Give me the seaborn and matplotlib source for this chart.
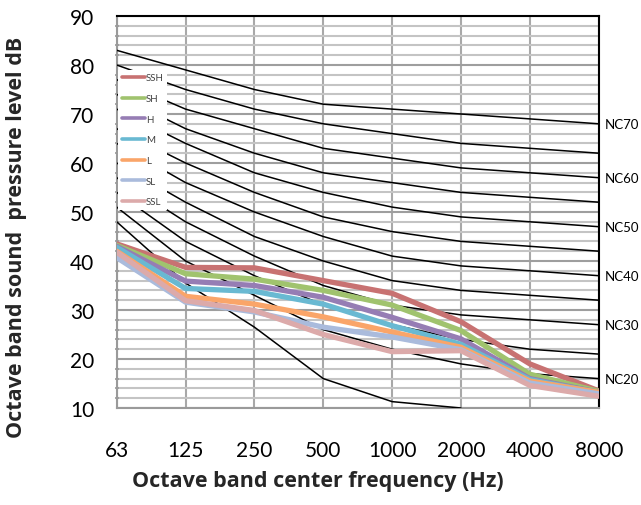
import numpy as np
import pandas as pd
import matplotlib
matplotlib.use("Agg")
import matplotlib.pyplot as plt
import seaborn as sns
from matplotlib.ticker import MultipleLocator

# Octave band centre frequencies
freqs = ["63", "125", "250", "500", "1000", "2000", "4000", "8000"]

# Measured octave band sound pressure levels (dB)
SSH = [43.5, 38.7, 38.6, 36.0, 33.4, 27.6, 19.0, 13.5]
SH = [43.2, 37.4, 36.3, 34.0, 31.0, 25.8, 16.9, 13.4]
H = [43.0, 35.9, 35.0, 32.6, 28.5, 24.1, 16.0, 13.2]
M = [42.8, 34.4, 33.8, 31.2, 26.8, 23.0, 15.8, 13.1]
L = [42.0, 32.8, 31.2, 28.6, 25.5, 22.4, 15.5, 13.2]
SL = [40.7, 31.6, 29.6, 26.5, 24.5, 21.9, 15.1, 12.9]
SSL = [41.8, 31.9, 29.9, 25.0, 21.5, 21.7, 14.6, 12.4]

series_names = ["SSH", "SH", "H", "M", "L", "SL", "SSL"]
series_values = [SSH, SH, H, M, L, SL, SSL]
series_colors = ["#C87272", "#A0C36E", "#967DB4", "#69B9D2", "#FAA569", "#AABBDC", "#DCAAAA"]

# Noise criterion reference curves (dB)
nc15 = [48, 35.5, 26.5, 16, 11.3, 10, np.nan, np.nan]
nc20 = [51, 40, 33, 26, 22, 19, 17, 16]
nc25 = [54, 44, 37, 31, 27, 24, 22, 21]
nc30 = [57, 48, 41, 35, 31, 29, 28, 27]
nc35 = [60, 52, 45, 40, 36, 34, 33, 32]
nc40 = [64, 56, 50, 45, 41, 39, 38, 37]
nc45 = [67, 60, 54, 49, 46, 44, 43, 42]
nc50 = [71, 64, 58, 54, 51, 49, 48, 47]
nc55 = [74, 67, 62, 58, 56, 54, 53, 52]
nc60 = [77, 71, 67, 63, 61, 59, 58, 57]
nc65 = [80, 75, 71, 68, 66, 64, 63, 62]
nc70 = [83, 79, 75, 72, 71, 70, 69, 68]
nc_curves = [nc15, nc20, nc25, nc30, nc35, nc40, nc45, nc50, nc55, nc60, nc65, nc70]
nc_levels = [15, 20, 25, 30, 35, 40, 45, 50, 55, 60, 65, 70]
nc_labelled = [20, 30, 40, 50, 60, 70]

pos = np.arange(len(freqs))

sns.set_theme(style="white")
plt.rcParams["font.family"] = ["Lato", "DejaVu Sans"]
title_font = ["Open Sans", "DejaVu Sans"]

fig = plt.figure(figsize=(6.41, 5.06), dpi=100)
ax = fig.add_axes([116.7 / 641, 1 - 409 / 506, 482 / 641, 392 / 506])

# NC curves
for lvl, vals in zip(nc_levels, nc_curves):
    df_nc = pd.DataFrame({"x": pos, "y": vals}).dropna()
    sns.lineplot(data=df_nc, x="x", y="y", color="black", linewidth=1.1,
                 ax=ax, legend=False, zorder=3)

# Measured spectra
long = pd.DataFrame({
    "x": np.tile(pos, len(series_names)),
    "y": np.concatenate(series_values),
    "series": np.repeat(series_names, len(freqs)),
})
sns.lineplot(data=long, x="x", y="y", hue="series", hue_order=series_names,
             palette=series_colors, linewidth=3.8, ax=ax, zorder=4)

# NC labels at the right edge
for lvl, vals in zip(nc_levels, nc_curves):
    if lvl in nc_labelled:
        ax.annotate(f"NC{lvl}", xy=(pos[-1], vals[-1]), xytext=(4, 0),
                    textcoords="offset points", va="center", ha="left",
                    fontsize=9.5, color="black", annotation_clip=False)

ax.set_xlim(pos[0], pos[-1])
ax.set_ylim(10, 90)
ax.set_xticks(pos)
ax.set_xticklabels(freqs)
ax.yaxis.set_major_locator(MultipleLocator(10))
ax.yaxis.set_minor_locator(MultipleLocator(2))

ax.grid(which="major", axis="y", color="#9E9E9E", linewidth=1.5, zorder=1)
ax.grid(which="minor", axis="y", color="#C4C4C4", linewidth=1.5, zorder=1)
ax.grid(which="major", axis="x", color="#A8A8A8", linewidth=1.5, zorder=1)
ax.set_axisbelow(True)

for side in ["left", "bottom"]:
    ax.spines[side].set_color("#9A9A9A")
    ax.spines[side].set_linewidth(1.5)
for side in ["top", "right"]:
    ax.spines[side].set_color("black")
    ax.spines[side].set_linewidth(1.5)

ax.tick_params(axis="both", which="major", labelsize=15, colors="#9A9A9A",
               labelcolor="black", length=6, width=1.5, direction="out")
ax.tick_params(axis="y", which="minor", length=3, width=1.2, color="#9A9A9A",
               direction="inout", left=True)
ax.tick_params(axis="x", pad=17)
ax.tick_params(axis="y", pad=10)
ax.set_xlabel("")
ax.set_ylabel("")

fig.text(318 / 641, 1 - 482 / 506, "Octave band center frequency (Hz)",
         ha="center", va="center", fontsize=15.5, fontweight="bold",
         family=title_font)
fig.text(17 / 641, 1 - 237 / 506, "Octave band sound  pressure level dB",
         ha="center", va="center", rotation=90, fontsize=15.5, fontweight="bold",
         family=title_font)

leg = ax.legend(loc="upper left", bbox_to_anchor=(0.003, 0.862), borderaxespad=0,
                frameon=True, fancybox=False, facecolor="white", edgecolor="none",
                framealpha=1, fontsize=7, handlelength=2.4, handletextpad=0.1,
                labelspacing=1.2, borderpad=0.35, title=None)
for line in leg.get_lines():
    line.set_linewidth(2.6)
for t in leg.get_texts():
    t.set_color("#404040")
leg.set_zorder(6)

fig.savefig("out.png", dpi=100)
